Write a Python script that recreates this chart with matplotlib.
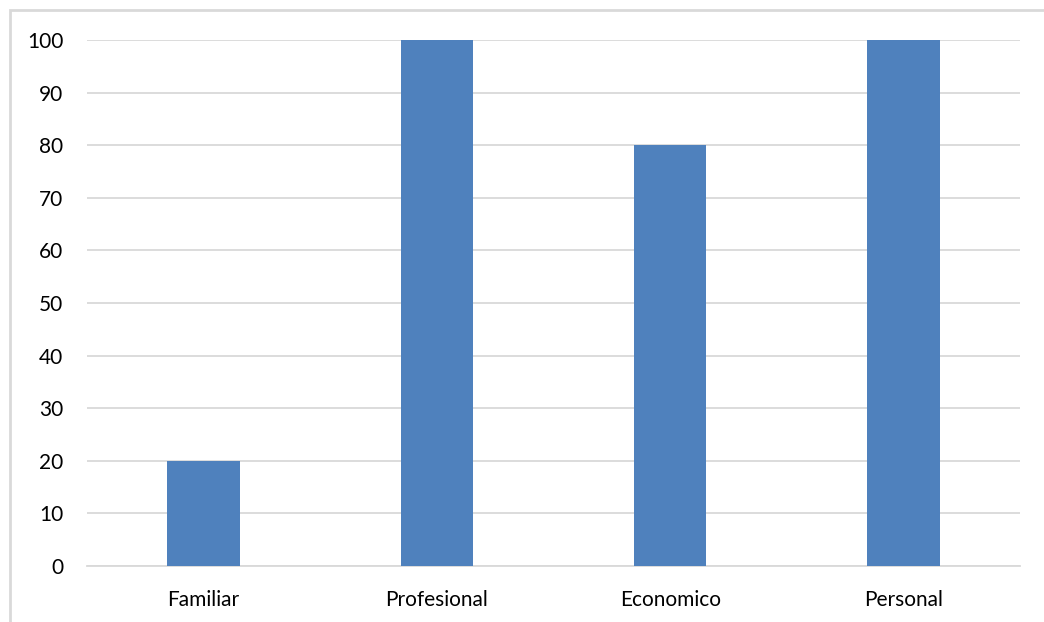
import numpy as np
import matplotlib.pyplot as plt
from matplotlib.patches import Rectangle

# Data
categories = ['Familiar', 'Profesional', 'Economico', 'Personal']
values = [20, 100, 80, 100]

plt.rcParams['font.family'] = ['Lato', 'DejaVu Sans']

fig = plt.figure(figsize=(10.44, 6.22), dpi=100)
W, H = 1044, 622

# light frame around the chart area (runs off the right/bottom edge)
fig.patches.append(Rectangle((10 / W, -0.05), 1.1, 1 - 10 / H + 0.05,
                             transform=fig.transFigure, fill=False,
                             edgecolor='#d9d9d9', linewidth=2))

ax = fig.add_axes([87 / W, 1 - 566 / H, (1020 - 87) / W, (566 - 40) / H])

x = np.arange(len(categories))
ax.bar(x, values, width=0.31, color='#4f81bd', zorder=3)

ax.set_xlim(-0.5, len(categories) - 0.5)
ax.set_ylim(0, 100)
ax.set_yticks(np.arange(0, 101, 10))
ax.set_xticks(x)
ax.set_xticklabels(categories)
ax.tick_params(axis='both', length=0, labelsize=15, colors='black')
ax.tick_params(axis='y', pad=17)
ax.tick_params(axis='x', pad=17)

ax.grid(axis='y', color='#d9d9d9', linewidth=1.3, zorder=0)
for s in ['top', 'right', 'left']:
    ax.spines[s].set_visible(False)
ax.spines['bottom'].set_color('#d9d9d9')
ax.spines['bottom'].set_linewidth(1.3)

fig.savefig('out.png', dpi=100)
